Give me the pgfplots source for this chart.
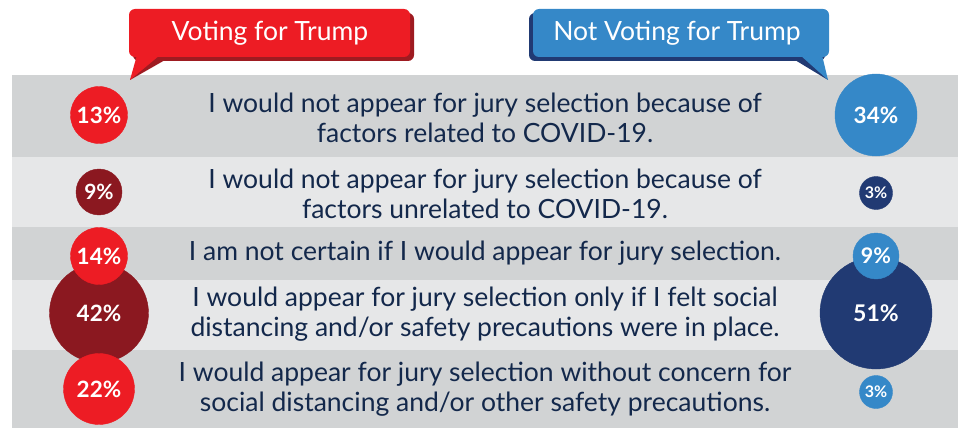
\documentclass[border=0pt]{standalone}
\usepackage{fontspec}
\setmainfont{Lato}
\usepackage{pgfplots}
\usepackage{pgfplotstable}
\pgfplotsset{compat=1.18}
\definecolor{cRed}{HTML}{ED1C24}
\definecolor{cRedSh}{HTML}{9E1B21}
\definecolor{cDarkRed}{HTML}{8B1820}
\definecolor{cBlue}{HTML}{3588C8}
\definecolor{cNavy}{HTML}{213A73}
\definecolor{rowDark}{HTML}{D1D3D4}
\definecolor{rowLight}{HTML}{E6E7E8}
\definecolor{txt}{HTML}{13284B}
% x, y: bubble centre; r: radius; v: percentage; fs: label size
\pgfplotstableread{
x y r v fs
99 192 23 9 21
99 313 49.5 42 22.5
}\tDarkRed
\pgfplotstableread{
x y r v fs
876 193 16.5 3 16
876 313 56 51 23
}\tNavy
\pgfplotstableread{
x y r v fs
99 115 28.5 13 22.5
99 256 28.5 14 22.5
99 389 35.5 22 22.5
}\tRed
\pgfplotstableread{
x y r v fs
876 115 41 34 22.5
876 256 23 9 21.5
876 392 16.5 3 16
}\tBlue
\pgfplotsset{
  bubble/.style={
    scatter, only marks, mark=*,
    point meta=\thisrow{v},
    visualization depends on={\thisrow{r}\as\rr},
    scatter/use mapped color={draw=#1,fill=#1},
    scatter/@pre marker code/.append style={/tikz/mark size=\rr},
  },
  blabel/.style={
    draw=none, mark=none,
    point meta=\thisrow{v},
    visualization depends on={\thisrow{fs}\as\fs},
    nodes near coords={\pgfmathprintnumber{\pgfplotspointmeta}\%},
    nodes near coords style={anchor=center, text=white, font=\fontsize{\fs}{\fs}\selectfont\bfseries, inner sep=0pt},
  },
}
\begin{document}
\begin{tikzpicture}
\begin{axis}[
  width=964pt, height=428pt, scale only axis,
  xmin=0, xmax=964, ymin=0, ymax=428, y dir=reverse,
  hide axis, clip=false,
  /pgf/number format/assume math mode=true,
]
\path (axis cs:0,0) rectangle (axis cs:964,428);
% row backgrounds
\fill[rowDark]  (axis cs:12,75)  rectangle (axis cs:958,157);
\fill[rowLight] (axis cs:12,157) rectangle (axis cs:958,227);
\fill[rowDark]  (axis cs:12,227) rectangle (axis cs:958,280);
\fill[rowLight] (axis cs:12,280) rectangle (axis cs:958,350);
\fill[rowDark]  (axis cs:12,350) rectangle (axis cs:958,428);
% red banner
\fill[cRedSh, rounded corners=6pt] (axis cs:133,13) rectangle (axis cs:414,61);
\fill[cRedSh] (axis cs:140,57) -- (axis cs:130,80) -- (axis cs:165,60) -- cycle;
\fill[cRed] (axis cs:137,55) -- (axis cs:130,80) -- (axis cs:160,55) -- cycle;
\fill[cRed, rounded corners=6pt] (axis cs:129,9) rectangle (axis cs:410,57);
\node[text=white, font=\fontsize{26.5}{30}\selectfont] at (axis cs:270,33) {Voting for Trump};
% blue banner
\fill[cNavy, rounded corners=6pt] (axis cs:529,13) rectangle (axis cs:825,61);
\fill[cNavy] (axis cs:795,60) -- (axis cs:828,80) -- (axis cs:815,57) -- cycle;
\fill[cBlue] (axis cs:800,55) -- (axis cs:828,80) -- (axis cs:822,55) -- cycle;
\fill[cBlue, rounded corners=6pt] (axis cs:533,9) rectangle (axis cs:829,57);
\node[text=white, font=\fontsize{26.5}{30}\selectfont] at (axis cs:677,33) {Not Voting for Trump};
% statements
\begin{scope}[every node/.style={text=txt, align=center, font=\fontsize{26.5}{30}\selectfont}]
\node at (axis cs:485,118) {I would not appear for jury selection because of\\factors related to COVID-19.};
\node at (axis cs:485,194) {I would not appear for jury selection because of\\factors unrelated to COVID-19.};
\node at (axis cs:485,253) {I am not certain if I would appear for jury selection.};
\node at (axis cs:485,314) {I would appear for jury selection only if I felt social\\distancing and/or safety precautions were in place.};
\node at (axis cs:485,389) {I would appear for jury selection without concern for\\social distancing and/or other safety precautions.};
\end{scope}
% bubbles: dark first
\addplot[bubble=cDarkRed] table {\tDarkRed};
\addplot[bubble=cNavy] table {\tNavy};
\addplot[bubble=cRed] table {\tRed};
\addplot[bubble=cBlue] table {\tBlue};
% labels
\addplot[blabel] table {\tDarkRed};
\addplot[blabel] table {\tNavy};
\addplot[blabel] table {\tRed};
\addplot[blabel] table {\tBlue};
\end{axis}
\end{tikzpicture}
\end{document}
